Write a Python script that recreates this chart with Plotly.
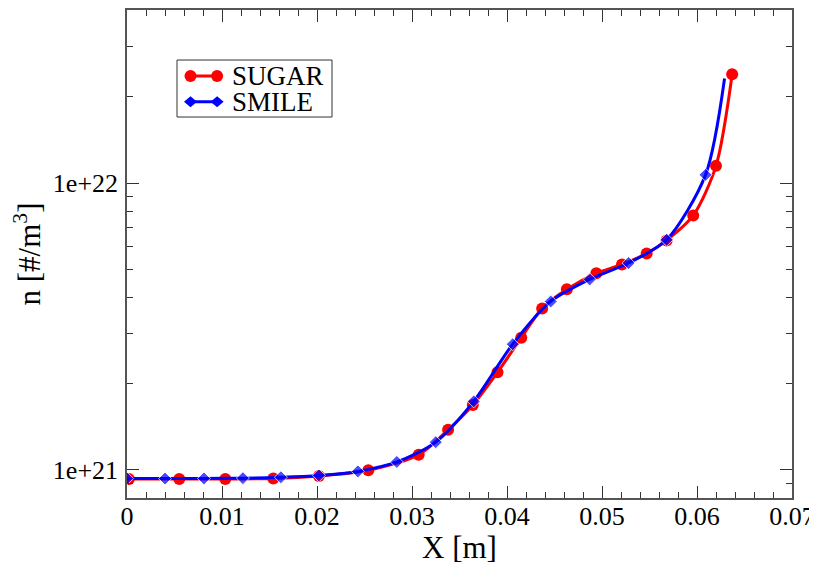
import plotly.graph_objects as go

# SUGAR data (red circles)
sugar_x = [0.0002, 0.0055, 0.01035, 0.0154, 0.0202, 0.0254, 0.0307, 0.0338, 0.0364,
           0.0390, 0.0415, 0.0437, 0.0463, 0.0494, 0.0521, 0.0547, 0.0568, 0.0596,
           0.0620, 0.0637]
sugar_n = [9.30e20, 9.30e20, 9.30e20, 9.34e20, 9.53e20, 9.98e20, 1.13e21, 1.38e21, 1.685e21,
           2.19e21, 2.89e21, 3.66e21, 4.27e21, 4.85e21, 5.21e21, 5.69e21, 6.32e21, 7.72e21,
           1.15e22, 2.40e22]

# SMILE data (blue diamonds); last point is the line end without marker
smile_x = [0.0000, 0.0040, 0.0081, 0.0122, 0.0162, 0.0202, 0.0243, 0.0284, 0.0325,
           0.0365, 0.0406, 0.0446, 0.0487, 0.0528, 0.0568, 0.0609, 0.0629]
smile_n = [9.34e20, 9.33e20, 9.34e20, 9.36e20, 9.43e20, 9.57e20, 9.88e20, 1.066e21, 1.25e21,
           1.734e21, 2.744e21, 3.87e21, 4.62e21, 5.27e21, 6.35e21, 1.07e22, 2.32e22]

series_names = ["SUGAR", "SMILE"]
y_tick_vals = [1e21, 1e22]
y_tick_text = ["1e+21", "1e+22"]
x_tick_vals = [0, 0.01, 0.02, 0.03, 0.04, 0.05, 0.06, 0.07]
x_tick_text = ["0", "0.01", "0.02", "0.03", "0.04", "0.05", "0.06", "0.07"]

FONT = "Liberation Serif, Times New Roman, Times, serif"
RED = "#ff0000"
BLUE = "#0000ff"

fig = go.Figure()
fig.add_trace(go.Scatter(
    x=sugar_x, y=sugar_n, name=series_names[0], mode="lines+markers",
    line=dict(color=RED, width=3, shape="spline", smoothing=0.8),
    marker=dict(symbol="circle", size=12, color=RED),
))
smile_sizes = [10] * (len(smile_x) - 1) + [0]
fig.add_trace(go.Scatter(
    x=smile_x, y=smile_n, name=series_names[1], mode="lines+markers",
    line=dict(color=BLUE, width=3, shape="spline", smoothing=0.8),
    marker=dict(symbol="diamond", size=smile_sizes, color=BLUE),
))

axis_common = dict(
    showline=True, linecolor="#555555", linewidth=1.5, mirror="allticks",
    ticks="inside", ticklen=12, tickwidth=1.2, tickcolor="#333333",
    showgrid=False, zeroline=False, automargin=False,
    tickfont=dict(family=FONT, size=26, color="black"),
)

fig.update_xaxes(
    range=[0, 0.07], tickvals=x_tick_vals, ticktext=x_tick_text,
    ticklabelstandoff=-6,
    minor=dict(ticks="inside", ticklen=6, dtick=0.002, tickcolor="#333333", tickwidth=1, showgrid=False),
    title=dict(text="X [m]", font=dict(family=FONT, size=31, color="black"), standoff=0),
    **axis_common,
)
fig.update_yaxes(
    type="log", range=[20.902, 22.6045], tickvals=y_tick_vals, ticktext=y_tick_text,
    ticklabelstandoff=2,
    minor=dict(ticks="inside", ticklen=6, dtick="D1", tickcolor="#333333", tickwidth=1, showgrid=False),
    title=dict(text="n [#/m<sup>3</sup>]", font=dict(family=FONT, size=31, color="black"), standoff=4),
    **axis_common,
)

# --- custom legend (box, symbols, labels) in paper coordinates ---
shapes = [dict(type="rect", xref="paper", yref="paper", x0=0.0752, x1=0.3083,
               y0=0.7807, y1=0.8975, line=dict(color="#333333", width=1),
               fillcolor="white", layer="above")]
annotations = []
rows = [(0.8648, RED, "circle", series_names[0]), (0.8121, BLUE, "diamond", series_names[1])]
lx0, lx1 = 0.0895, 0.1415   # legend symbol line start/end (paper)
for ry, col, sym, label in rows:
    shapes.append(dict(type="line", xref="paper", yref="paper", x0=lx0, x1=lx1, y0=ry, y1=ry,
                       line=dict(color=col, width=3), layer="above"))
    for ax in (lx0 + 0.006, lx1 - 0.006):
        if sym == "circle":
            shapes.append(dict(type="circle", xref="paper", yref="paper",
                               xsizemode="pixel", ysizemode="pixel", xanchor=ax, yanchor=ry,
                               x0=-6, x1=6, y0=-6, y1=6, fillcolor=col,
                               line=dict(color=col, width=0), layer="above"))
        else:
            shapes.append(dict(type="path", xref="paper", yref="paper",
                               xsizemode="pixel", ysizemode="pixel", xanchor=ax, yanchor=ry,
                               path="M -6.5 0 L 0 5.5 L 6.5 0 L 0 -5.5 Z", fillcolor=col,
                               line=dict(color=col, width=0), layer="above"))
    annotations.append(dict(xref="paper", yref="paper", x=0.1549, y=ry, text=label,
                            showarrow=False, xanchor="left", yanchor="middle", height=25,
                            font=dict(family=FONT, size=27, color="black")))

fig.update_layout(
    width=809, height=557,
    margin=dict(l=119, r=25, t=2, b=67),
    paper_bgcolor="white", plot_bgcolor="white",
    showlegend=False,
    shapes=shapes, annotations=annotations,
)

fig.write_html("out.html")
